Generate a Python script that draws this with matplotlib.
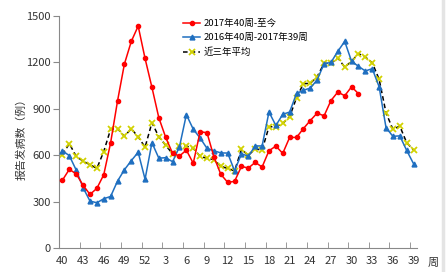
import numpy as np
import matplotlib
matplotlib.use('Agg')
import matplotlib.pyplot as plt
from matplotlib.lines import Line2D

plt.rcParams['font.family'] = ['Noto Sans CJK SC', 'DejaVu Sans']

# weeks 40..52 then 1..39
weeks = list(range(40, 53)) + list(range(1, 40))

# 2017年40周-至今
cur = [440, 510, 480, 407, 348, 387, 475, 682, 951, 1190, 1336, 1435, 1226,
       1039, 843, 716, 613, 596, 634, 549, 753, 746, 591, 478, 426, 432,
       529, 518, 555, 525, 630, 660, 613, 716, 716, 773, 825, 873, 855,
       954, 1009, 985, 1043, 998]
# 2016年40周-2017年39周
last = [630, 598, 505, 391, 305, 294, 320, 335, 434, 507, 566, 620, 446,
        682, 582, 585, 559, 656, 863, 769, 712, 645, 630, 616, 615, 500,
        610, 595, 661, 661, 880, 793, 865, 880, 1000, 1020, 1035, 1087, 1192,
        1200, 1272, 1336, 1207, 1175, 1145, 1160, 1043, 779, 723, 726, 632, 546]
# 近三年平均
avg = [605, 676, 593, 563, 540, 516, 625, 769, 773, 723, 772, 720, 653,
       811, 720, 665, 610, 658, 661, 645, 594, 581, 573, 529, 516, 499,
       639, 600, 642, 634, 785, 785, 806, 850, 972, 1063, 1065, 1108, 1194,
       1194, 1230, 1170, 1208, 1257, 1235, 1198, 1091, 875, 768, 789, 682, 634]

fig = plt.figure(figsize=(4.47, 2.72), dpi=100)
ax = fig.add_axes([59/447, 1-248.3/272, (417-59)/447, (248.3-16)/272])
x = np.arange(len(weeks))

l3, = ax.plot(x[:len(avg)], avg, color='black', ls=(0, (3, 2)), lw=1.1,
              marker='x', mec='#d2d200', ms=4, mew=1.3, zorder=2)
l2, = ax.plot(x[:len(last)], last, color='#1f6fc0', lw=1.1, marker='^',
              ms=3.5, zorder=3)
l1, = ax.plot(x[:len(cur)], cur, color='#ff0000', lw=1.1, marker='o',
              ms=3, zorder=4)

ax.set_xlim(-0.5, len(weeks) - 0.5)
ax.set_ylim(0, 1500)
ax.set_yticks(np.arange(0, 1501, 300))
ax.set_xticks(x[::3])
ax.set_xticklabels([str(w) for w in weeks[::3]])
ax.set_xticks(np.arange(2.5, len(weeks) - 1, 3), minor=True)
ax.tick_params(axis='x', which='major', length=0, pad=5.5, labelsize=8,
               colors='#333333')
ax.tick_params(axis='x', which='minor', direction='in', length=4,
               color='#898989')
ax.tick_params(axis='y', length=4, pad=2, labelsize=8, color='#898989',
               labelcolor='#333333')
for s in ['top', 'right']:
    ax.spines[s].set_visible(False)
for s in ['left', 'bottom']:
    ax.spines[s].set_color('#898989')

fig.text(21/447, 1-137/272, '报告发病数（例）', rotation=90, ha='center',
         va='center', fontsize=7.8, color='#333333')
fig.text(433/447, 1-262.7/272, '周', ha='center', va='center', fontsize=8,
         color='#333333')

fig.legend([l1, l2, l3], ['2017年40周-至今', '2016年40周-2017年39周', '近三年平均'],
           loc='upper left', bbox_to_anchor=(183/447, 1-19/272), frameon=False,
           fontsize=6.8, handlelength=1.8, handletextpad=0.4,
           labelspacing=0.55, borderpad=0, borderaxespad=0)

fig.add_artist(Line2D([442.5/447, 442.5/447], [0, 1], color='#e4e4e4', lw=2.5,
                      transform=fig.transFigure))

fig.savefig('out.png', dpi=100)
